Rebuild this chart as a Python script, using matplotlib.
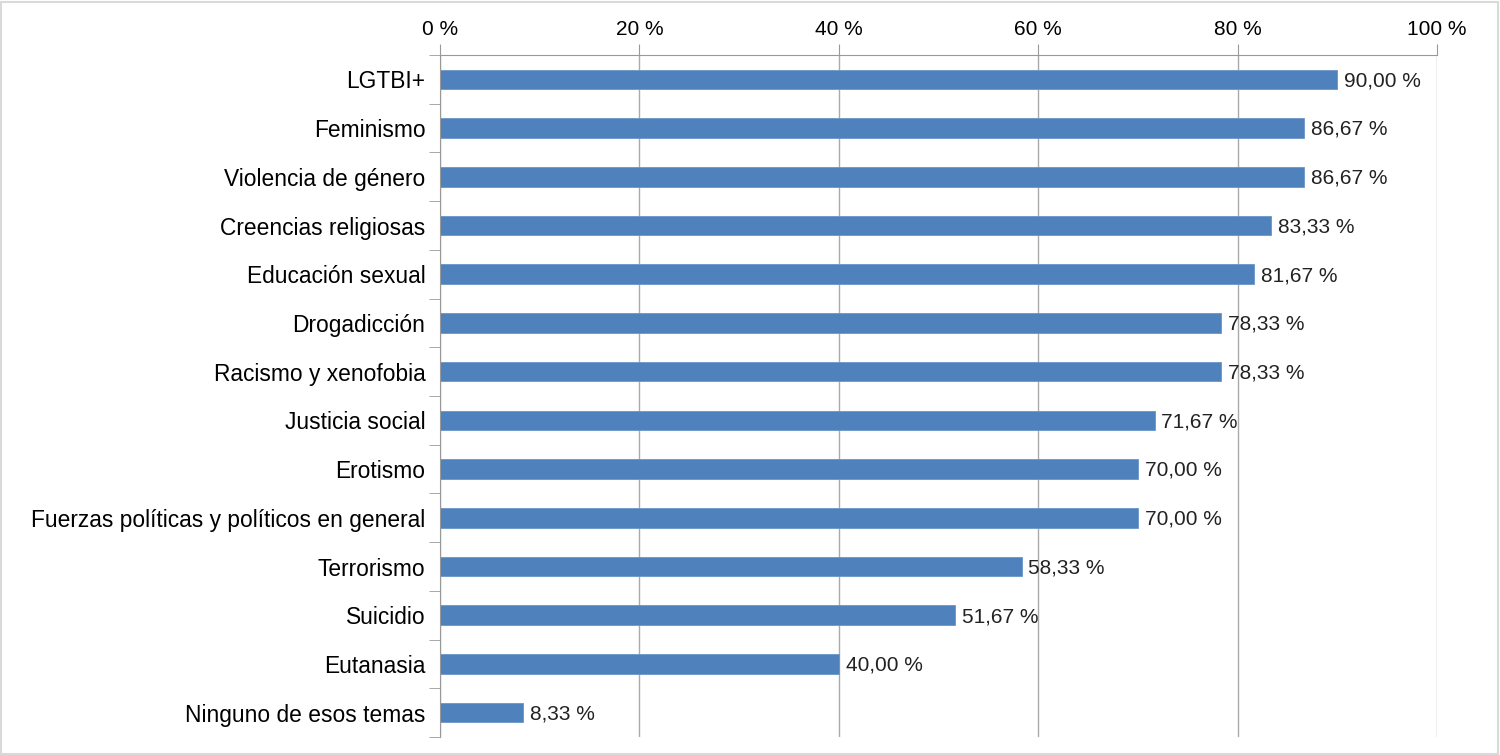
import numpy as np
import matplotlib.pyplot as plt
from matplotlib.patches import Rectangle
from matplotlib.ticker import FixedLocator

plt.rcParams['font.family'] = ['Liberation Sans', 'DejaVu Sans']

temas = ['LGTBI+', 'Feminismo', 'Violencia de género', 'Creencias religiosas',
         'Educación sexual', 'Drogadicción', 'Racismo y xenofobia',
         'Justicia social', 'Erotismo',
         'Fuerzas políticas y políticos en general', 'Terrorismo',
         'Suicidio', 'Eutanasia', 'Ninguno de esos temas']
porcentajes = [90.00, 86.67, 86.67, 83.33, 81.67, 78.33, 78.33,
               71.67, 70.00, 70.00, 58.33, 51.67, 40.00, 8.33]
xticks = [0, 20, 40, 60, 80, 100]

fig = plt.figure(figsize=(15, 7.55), dpi=100)
ax = fig.add_axes([440 / 1500, 1 - 737 / 755, (1437 - 440) / 1500, (737 - 55) / 755])

y = np.arange(len(temas))
ax.barh(y, porcentajes, height=0.4, color='#4F81BD', edgecolor='#6A96C9',
        linewidth=0.6, zorder=3)

for yi, v in zip(y, porcentajes):
    ax.annotate(f'{v:.2f} %'.replace('.', ','), (v, yi), xytext=(5, -1),
                textcoords='offset points', ha='left', va='center',
                fontsize=15, color='#222222')

ax.set_xlim(0, 100)
ax.set_ylim(len(temas) - 0.5, -0.5)
ax.xaxis.tick_top()
ax.set_xticks(xticks)
ax.set_xticklabels([f'{t} %' for t in xticks], fontsize=15)
ax.tick_params(axis='x', length=8, color='#999999', pad=3.5)
ax.grid(axis='x', color='#aaaaaa', linewidth=1, zorder=0)

ax.set_yticks(y)
ax.set_yticklabels(temas, fontsize=16.4)
ax.tick_params(axis='y', which='major', length=0, pad=10.5)
ax.yaxis.set_minor_locator(FixedLocator(np.arange(-0.5, len(temas), 1.0)))
ax.tick_params(axis='y', which='minor', length=8, color='#999999')

for s in ['right', 'bottom']:
    ax.spines[s].set_visible(False)
ax.spines['left'].set_color('#999999')
ax.spines['top'].set_color('#999999')
ax.spines['left'].set_zorder(4)

fig.patches.append(Rectangle((0.0005, 0.001), 0.998, 0.997, transform=fig.transFigure,
                             fill=False, edgecolor='#d9d9d9', linewidth=1.5))

fig.savefig('out.png', dpi=100)
